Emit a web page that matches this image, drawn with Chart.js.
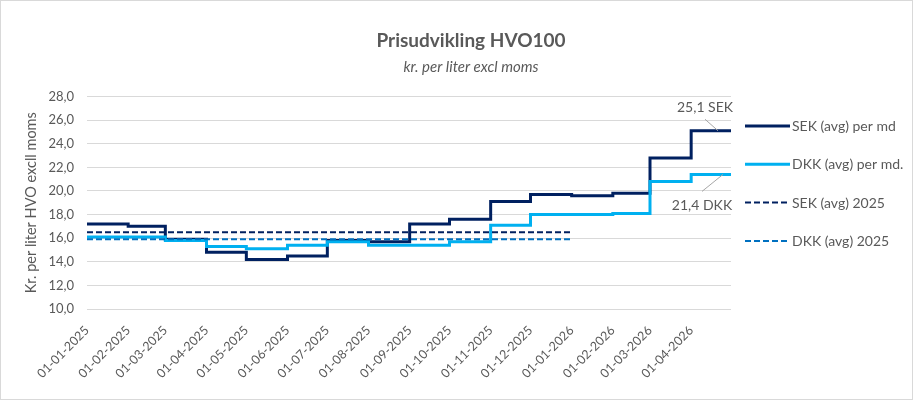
<!DOCTYPE html>
<html lang="da">
<head>
<meta charset="utf-8">
<title>Prisudvikling HVO100</title>
<script src="https://cdn.jsdelivr.net/npm/chart.js@4.4.1/dist/chart.umd.min.js"></script>
<style>
  html, body { margin: 0; padding: 0; background: #fff; }
  .ramme { width: 913px; height: 400px; box-sizing: border-box; border: 1px solid #d9d9d9; }
  .ramme canvas { display: block; }
</style>
</head>
<body>
<div class="ramme"><canvas id="hvo" width="911" height="398"></canvas></div>
<script>
/* Prisudvikling HVO100 – månedlige gennemsnit (trin) + gennemsnit for 2025 */

// ---- data ----
const maaneder = ['2025-01-01', '2025-02-01', '2025-03-01', '2025-04-01', '2025-05-01', '2025-06-01',
                  '2025-07-01', '2025-08-01', '2025-09-01', '2025-10-01', '2025-11-01', '2025-12-01',
                  '2026-01-01', '2026-02-01', '2026-03-01', '2026-04-01'];
const tickLabels = ['01-01-2025', '01-02-2025', '01-03-2025', '01-04-2025', '01-05-2025', '01-06-2025',
                    '01-07-2025', '01-08-2025', '01-09-2025', '01-10-2025', '01-11-2025', '01-12-2025',
                    '01-01-2026', '01-02-2026', '01-03-2026', '01-04-2026'];
const slutDato = '2026-05-01';

const sekPrMd = [17.2, 17.0, 15.9, 14.8, 14.2, 14.5, 15.8, 15.7, 17.2, 17.6, 19.1, 19.7, 19.6, 19.8, 22.8, 25.1];
const dkkPrMd = [16.1, 16.1, 15.8, 15.3, 15.1, 15.4, 15.7, 15.4, 15.4, 15.7, 17.1, 18.0, 18.0, 18.1, 20.8, 21.4];

const gnsPeriode = ['2025-01-01', '2026-01-01'];
const sekGns2025 = 16.5;
const dkkGns2025 = 15.9;

// ---- hjælpere ----
const GRAA = '#595959';
const FONT = 'Lato, "Open Sans", sans-serif';
const start = Date.parse(maaneder[0]);
const dag = (iso) => (Date.parse(iso) - start) / 86400000;
const komma = (v) => Number(v).toFixed(1).replace('.', ',');

// trinpunkter: hver måned holder værdien til næste måned starter
function trin(vaerdier) {
  const pts = maaneder.map((m, i) => ({ x: dag(m), y: vaerdier[i] }));
  pts.push({ x: dag(slutDato), y: vaerdier[vaerdier.length - 1] });
  return pts;
}
const vandret = (v) => gnsPeriode.map(d => ({ x: dag(d), y: v }));

Chart.defaults.font.family = FONT;
Chart.defaults.color = GRAA;

// titel, legende og datalabels tegnes direkte på lærredet
const tekster = {
  id: 'tekster',
  afterDraw(chart) {
    const { ctx, scales } = chart;
    ctx.save();
    ctx.fillStyle = GRAA;
    ctx.textAlign = 'center';
    ctx.textBaseline = 'alphabetic';
    ctx.font = 'bold 19px ' + FONT;
    ctx.fillText('Prisudvikling HVO100', 470, 45.5);
    ctx.font = 'italic 15px ' + FONT;
    ctx.fillText('kr. per liter excl moms', 470, 70.5);

    // legende
    ctx.textAlign = 'left';
    ctx.textBaseline = 'middle';
    ctx.font = '14px ' + FONT;
    chart.data.datasets.forEach((ds, i) => {
      const y = 125 + i * 38.3;
      ctx.strokeStyle = ds.borderColor;
      ctx.lineWidth = ds.borderWidth;
      ctx.setLineDash(ds.borderDash || []);
      ctx.beginPath();
      ctx.moveTo(744, y);
      ctx.lineTo(789, y);
      ctx.stroke();
      ctx.setLineDash([]);
      ctx.fillStyle = GRAA;
      ctx.fillText(ds.label, 791, y + 0.5);
    });

    // datalabels på sidste punkt
    const xEnd = scales.x.getPixelForValue(dag(slutDato));
    const ySek = scales.y.getPixelForValue(sekPrMd[sekPrMd.length - 1]);
    const yDkk = scales.y.getPixelForValue(dkkPrMd[dkkPrMd.length - 1]);
    ctx.strokeStyle = '#a6a6a6';
    ctx.lineWidth = 1;
    ctx.beginPath();
    ctx.moveTo(xEnd - 26, ySek - 11.5); ctx.lineTo(xEnd - 13, ySek);
    ctx.moveTo(xEnd - 29, yDkk + 17);   ctx.lineTo(xEnd - 8, yDkk);
    ctx.stroke();
    ctx.textAlign = 'center';
    ctx.fillStyle = GRAA;
    ctx.fillText(komma(sekPrMd[sekPrMd.length - 1]) + ' SEK', xEnd - 26, ySek - 23);
    ctx.fillText(komma(dkkPrMd[dkkPrMd.length - 1]) + ' DKK', xEnd - 29, yDkk + 31);
    ctx.restore();
  }
};

new Chart(document.getElementById('hvo').getContext('2d'), {
  type: 'line',
  data: {
    datasets: [
      { label: 'SEK (avg) per md', data: trin(sekPrMd), borderColor: '#002060', borderWidth: 3, stepped: true, order: 4 },
      { label: 'DKK (avg) per md.', data: trin(dkkPrMd), borderColor: '#00b0f0', borderWidth: 3, stepped: true, order: 3 },
      { label: 'SEK (avg) 2025', data: vandret(sekGns2025), borderColor: '#002060', borderWidth: 2, borderDash: [6, 3], order: 2 },
      { label: 'DKK (avg) 2025', data: vandret(dkkGns2025), borderColor: '#0070c0', borderWidth: 2, borderDash: [6, 3], order: 1 }
    ]
  },
  options: {
    responsive: false,
    animation: false,
    layout: { padding: { top: 95.5, left: 0, right: 0, bottom: 0 } },
    elements: { point: { radius: 0, hoverRadius: 0 }, line: { tension: 0, fill: false } },
    plugins: { legend: { display: false }, tooltip: { enabled: false } },
    scales: {
      x: {
        type: 'linear',
        min: 0,
        max: dag(slutDato),
        grid: { display: false },
        border: { display: false },
        afterBuildTicks: (s) => { s.ticks = maaneder.map(m => ({ value: dag(m) })); },
        afterFit: (s) => { s.height = 90; },
        ticks: {
          autoSkip: false, minRotation: 45, maxRotation: 45, padding: 6,
          color: GRAA, font: { size: 12.5 },
          callback: (v, i) => tickLabels[i]
        }
      },
      y: {
        min: 10,
        max: 28,
        grid: { color: '#d9d9d9', lineWidth: 1, drawTicks: false },
        border: { display: false },
        afterFit: (s) => { s.width = 86; },
        ticks: { stepSize: 2, padding: 13, color: GRAA, font: { size: 13 }, callback: (v) => komma(v) },
        title: { display: true, text: 'Kr. per liter HVO excll moms', color: GRAA, font: { size: 14.5 }, padding: { top: 22, bottom: 0 } }
      },
      hoejre: {
        type: 'linear',
        axis: 'y',
        position: 'right',
        grid: { display: false },
        border: { display: false },
        ticks: { display: false },
        afterFit: (s) => { s.width = 181; }
      }
    }
  },
  plugins: [tekster]
});
</script>
</body>
</html>
